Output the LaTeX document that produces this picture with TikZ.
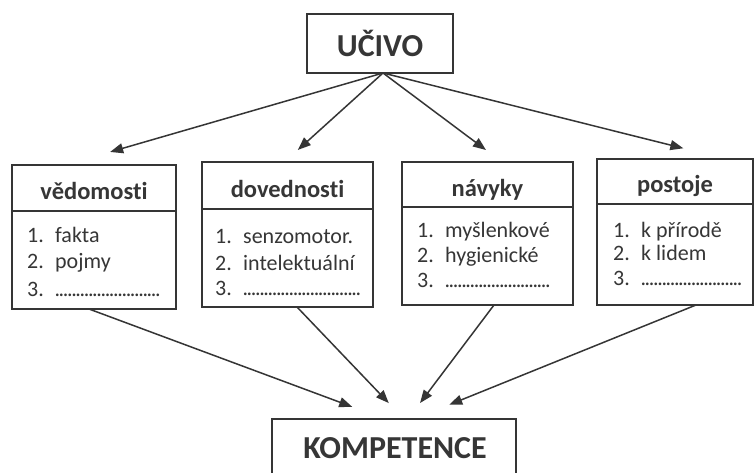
\documentclass[tikz,border=0pt]{standalone}
\usepackage{fontspec}
\setmainfont{Carlito}[Ligatures={NoCommon}]
\usetikzlibrary{arrows.meta,calc}
\definecolor{ink}{HTML}{353535}
\definecolor{txt}{HTML}{363636}
\newcount\dotcnt
\newcommand\dotrow[1]{\dotcnt=0 \loop\hbox to 4.2pt{\hss.\hss}\advance\dotcnt by 1 \ifnum\dotcnt<#1\relax\repeat}
\newcommand\num[1]{\makebox[28pt][l]{#1}}
\begin{document}
\begin{tikzpicture}[x=1pt,y=-1pt,
 box/.style={draw=ink,line width=1.7pt,inner sep=0pt,outer sep=0pt,anchor=north west},
 head/.style={font=\fontsize{24.5}{29}\selectfont\bfseries,text=txt,anchor=base,inner sep=0pt},
 item/.style={font=\fontsize{22}{26}\selectfont,text=txt,anchor=base west,inner sep=0pt},
 big/.style={font=\fontsize{32}{38}\selectfont\bfseries,text=txt,anchor=base,inner sep=0pt},
 arr/.style={draw=ink,line width=1.5pt,-{Triangle[length=13pt,width=10pt]}},
 sep/.style={draw=ink,line width=1.7pt}]
\useasboundingbox (0,0) rectangle (754,473);
\fill[white] (0,0) rectangle (754,473);
% top and bottom boxes
\node[box,minimum width=146pt,minimum height=59pt] (ucivo) at (307,14) {};
\node[big] (ucivot) at (380,57) {UČIVO};
\node[box,minimum width=244pt,minimum height=80pt] (komp) at (272,419) {};
\node[big] (kompt) at (395,458) {KOMPETENCE};
% four category boxes
\node[box,minimum width=164pt,minimum height=144pt] (ved) at (12,165) {};
\node[box,minimum width=171pt,minimum height=145pt] (dov) at (202,162) {};
\node[box,minimum width=171pt,minimum height=143pt] (nav) at (402,162) {};
\node[box,minimum width=156pt,minimum height=146pt] (pos) at (597,159) {};
\draw[sep] ($(ved.north west)+(0,46)$) -- ($(ved.north east)+(0,46)$);
\draw[sep] ($(dov.north west)+(0,47)$) -- ($(dov.north east)+(0,47)$);
\draw[sep] ($(nav.north west)+(0,45)$) -- ($(nav.north east)+(0,45)$);
\draw[sep] ($(pos.north west)+(0,45)$) -- ($(pos.north east)+(0,45)$);
% headers
\node[head] (vedh) at (94,199) {vědomosti};
\node[head] (dovh) at (287.5,197) {dovednosti};
\node[head] (navh) at (487.5,196) {návyky};
\node[head] (posh) at (675,193) {postoje};
% items
\node[item] (v1) at (27,242) {\num{1.}fakta};
\node[item] (v2) at (27,268) {\num{2.}pojmy};
\node[item] (v3) at (27,296) {\num{3.}\dotrow{25}};
\node[item] (d1) at (215,243) {\num{1.}senzomotor.};
\node[item] (d2) at (215,270) {\num{2.}intelektuální};
\node[item] (d3) at (215,295) {\num{3.}\dotrow{28}};
\node[item] (n1) at (417,237) {\num{1.}myšlenkové};
\node[item] (n2) at (417,262) {\num{2.}hygienické};
\node[item] (n3) at (417,287) {\num{3.}\dotrow{25}};
\node[item] (p1) at (613,237) {\num{1.}k přírodě};
\node[item] (p2) at (613,260) {\num{2.}k lidem};
\node[item] (p3) at (613,285) {\num{3.}\dotrow{24}};
% arrows from UČIVO
\draw[arr,shorten >=47pt] ([xshift=3pt]ucivo.south) -- ([xshift=-29pt]ved.north);
\draw[arr,shorten >=18pt] ([xshift=3pt]ucivo.south) -- ([xshift=-3pt]dov.north);
\draw[arr,shorten >=20pt] ([xshift=3pt]ucivo.south) -- ([xshift=14.5pt]nav.north);
\draw[arr,shorten >=44pt] ([xshift=3pt]ucivo.south) -- ([xshift=51pt]pos.north);
% arrows to KOMPETENCE
\draw[arr,shorten >=35pt] ([xshift=-5pt]ved.south) -- ([xshift=-9pt]komp.north);
\draw[arr,shorten >=22pt] ([xshift=9.5pt]dov.south) -- ([xshift=10pt]komp.north);
\draw[arr,shorten >=20pt] ([xshift=6.5pt]nav.south) -- ([xshift=14pt]komp.north);
\draw[arr,shorten >=38pt] ([xshift=21pt]pos.south) -- ([xshift=20pt]komp.north);
\end{tikzpicture}
\end{document}
